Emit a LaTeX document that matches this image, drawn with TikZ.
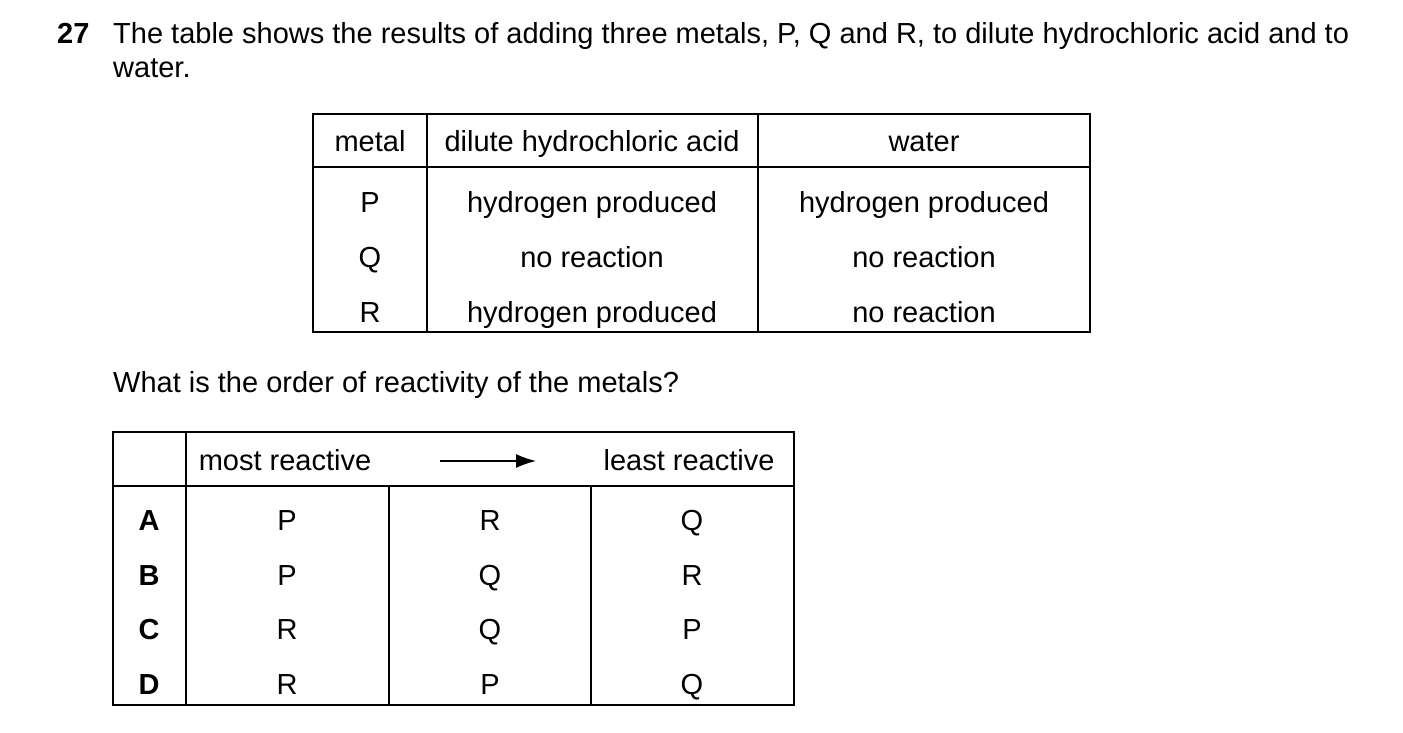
\documentclass[tikz,border=0pt]{standalone}
\usepackage{fontspec}
\setmainfont{Liberation Sans}
\usetikzlibrary{arrows.meta}
\begin{document}
\begin{tikzpicture}[x=1pt,y=-1pt,
        txt/.style={inner sep=0pt, font=\fontsize{29}{34}\selectfont},
        cell/.style={txt, anchor=base, yshift=-10.5pt},
        rule/.style={line width=1.2pt}
    ]
        \useasboundingbox (0,0) rectangle (1403,732);

        % Question text
        \node[txt, anchor=base west, font=\fontsize{29}{34}\selectfont\bfseries] (num) at (57,43) {27};
        \node[txt, anchor=base west] (q1) at (113,43) {The table shows the results of adding three metals, P, Q and R, to dilute hydrochloric acid and to};
        \node[txt, anchor=base west] (q2) at (113,77) {water.};

        % Table of results
        \draw[rule] (313,114) rectangle (1090,332);
        \draw[rule] (313,167) -- (1090,167);
        \draw[rule] (427,114) -- (427,332);
        \draw[rule] (758,114) -- (758,332);
        \node[cell] (h1) at (370,141) {metal};
        \node[cell] (h2) at (592,141) {dilute hydrochloric acid};
        \node[cell] (h3) at (924,141) {water};
        \foreach \y/\m/\a/\w in {202/P/hydrogen produced/hydrogen produced,
                                 257/Q/no reaction/no reaction,
                                 312/R/hydrogen produced/no reaction}{
            \node[cell] at (370,\y) {\m};
            \node[cell] at (592,\y) {\a};
            \node[cell] at (924,\y) {\w};
        }

        \node[txt, anchor=base west] (ask) at (113,392) {What is the order of reactivity of the metals?};

        % Answer options
        \draw[rule] (113,432) rectangle (794,705);
        \draw[rule] (113,486) -- (794,486);
        \draw[rule] (186,432) -- (186,705);
        \draw[rule] (389,486) -- (389,705);
        \draw[rule] (591,486) -- (591,705);
        \node[cell] (most) at (285,460) {most reactive};
        \node[cell] (least) at (689,460) {least reactive};
        \coordinate (arrS) at (440,461);
        \coordinate (arrE) at (536,461);
        \draw[line width=1.5pt, -{Latex[length=20pt,width=14pt]}] (arrS) -- (arrE);
        \foreach \y/\k/\a/\b/\c in {520/A/P/R/Q, 575/B/P/Q/R, 629/C/R/Q/P, 684/D/R/P/Q}{
            \node[cell, font=\fontsize{29}{34}\selectfont\bfseries] at (149,\y) {\k};
            \node[cell] at (287,\y) {\a};
            \node[cell] at (490,\y) {\b};
            \node[cell] at (692,\y) {\c};
        }
\end{tikzpicture}
\end{document}
